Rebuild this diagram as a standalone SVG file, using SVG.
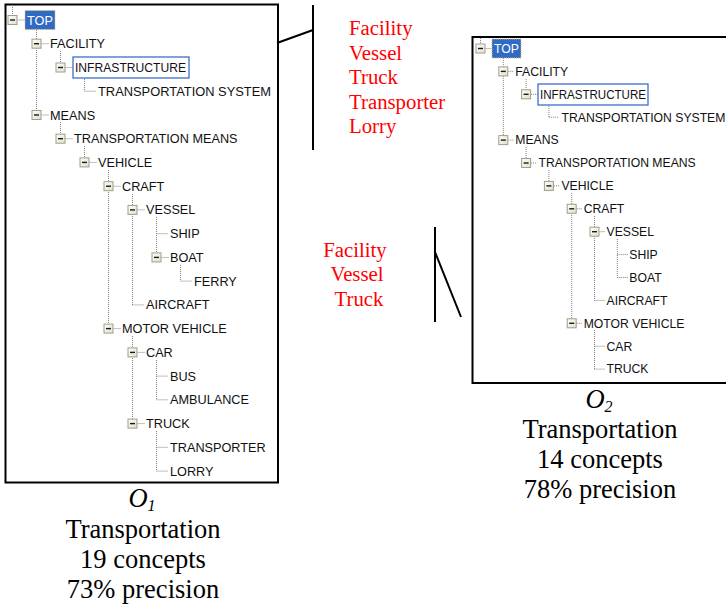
<svg xmlns="http://www.w3.org/2000/svg" xmlns:xlink="http://www.w3.org/1999/xlink" width="726" height="605" viewBox="0 0 726 605">
  <defs>
    <linearGradient id="btnFill" x1="0" y1="0" x2="1" y2="1">
      <stop offset="0" stop-color="#ffffff"/>
      <stop offset="1" stop-color="#e2ddcc"/>
    </linearGradient>
    <!-- tree expander button (expanded state) -->
    <g id="btn">
      <rect x="-4.5" y="-4.5" width="9" height="9" fill="url(#btnFill)" stroke="#a09e88" stroke-width="1"/>
      <path d="M-2.5 0 H2.5" stroke="#1a1a1a" stroke-width="1.4"/>
    </g>
    <style>
      .frame { fill: #ffffff; stroke: #000000; stroke-width: 2; }
      .dots { fill: none; stroke: #808080; stroke-width: 1; stroke-dasharray: 1 1; }
      .lbl1 { font-family: "Liberation Sans", Arial, sans-serif; font-size: 12.7px; fill: #111111; }
      .lbl2 { font-family: "Liberation Sans", Arial, sans-serif; font-size: 12.2px; fill: #111111; }
      .sel { fill: #316ac5; stroke: #d9c46a; stroke-width: 1; stroke-dasharray: 1 1; }
      .selText { fill: #ffffff; }
      .focus { fill: #ffffff; stroke: #3d6fcc; stroke-width: 1.3; }
      .red { font-family: "Liberation Serif", "Times New Roman", serif; font-size: 20.8px; fill: #ff0000; }
      .cap { font-family: "Liberation Serif", "Times New Roman", serif; font-size: 26.5px; fill: #000000; text-anchor: middle; }
      .sub { font-style: italic; font-size: 16px; }
      .pen { fill: none; stroke: #000000; stroke-width: 2; }
    </style>
  </defs>

  <rect width="726" height="605" fill="#ffffff"/>

  <!-- tree panels -->
  <rect id="panel-o1" class="frame" x="5.5" y="4.5" width="272.5" height="478"/>
  <rect id="panel-o2" class="frame" x="472.5" y="37" width="270" height="346"/>

  <!-- tree connectors (dotted) -->
  <g id="connectors">
    <path class="dots" d="M12.5 5 V15.5 M36.5 30 V115 M60.5 51 V67.5 M60.5 122 V138.7 M84.5 75 V91.2 M84.5 146 V162.4 M108.5 170 V328.6 M132.5 194 V304.9 M132.5 336 V423.6 M156.5 217 V257.4 M156.5 360 V399.8 M156.5 431 V471.1 M180.5 265 V281.1"/>
    <path class="dots" d="M17.5 20 H25 M41.5 43.7 H48.5 M65.5 67.5 H73 M84.5 91.2 H96.5 M41.5 115 H48.5 M65.5 138.7 H72.5 M89.5 162.4 H96.5 M113.5 186.2 H120.5 M137.5 209.9 H144.5 M156.5 233.7 H168.5 M161.5 257.4 H168.5 M180.5 281.1 H192.5 M132.5 304.9 H144.5 M113.5 328.6 H120.5 M137.5 352.4 H144.5 M156.5 376.1 H168.5 M156.5 399.8 H168.5 M137.5 423.6 H144.5 M156.5 447.3 H168.5 M156.5 471.1 H168.5"/>
    <path class="dots" d="M480.5 38 V44 M503.3 58 V140.1 M526.1 79 V94.3 M526.1 147 V163 M548.9 102 V117.2 M548.9 170 V185.9 M571.7 193 V323.3 M594.5 216 V300.4 M594.5 330 V369.1 M617.3 239 V277.5"/>
    <path class="dots" d="M485.5 48.5 H492 M508.3 71.4 H514 M531.1 94.3 H538 M548.9 117.2 H559 M508.3 140.1 H514 M531.1 163 H537 M553.9 185.9 H560 M576.7 208.8 H582 M599.5 231.7 H605 M617.3 254.6 H628 M617.3 277.5 H628 M594.5 300.4 H605 M576.7 323.3 H582 M594.5 346.2 H605 M594.5 369.1 H605"/>
    <!-- annotation pointers -->
    <path class="pen" d="M313 5 V150 M277 43 L313 30"/>
    <path class="pen" d="M435 227 V322 M435 252 L461 317"/>
  </g>

  <!-- O1 tree -->
  <g id="o1-top"><use xlink:href="#btn" x="12.5" y="20"/><rect class="sel" x="25" y="10.5" width="30" height="19"/><text class="lbl1 selText" x="27" y="24.5">TOP</text></g>
  <g id="o1-facility"><use xlink:href="#btn" x="36.5" y="43.7"/><text class="lbl1" x="50" y="48.2">FACILITY</text></g>
  <g id="o1-infrastructure"><use xlink:href="#btn" x="60.5" y="67.5"/><rect class="focus" x="73" y="57" width="116" height="21"/><text class="lbl1" x="75" y="72" textLength="111" lengthAdjust="spacingAndGlyphs">INFRASTRUCTURE</text></g>
  <g id="o1-transportation-system"><text class="lbl1" x="98" y="95.7" textLength="173" lengthAdjust="spacingAndGlyphs">TRANSPORTATION SYSTEM</text></g>
  <g id="o1-means"><use xlink:href="#btn" x="36.5" y="115"/><text class="lbl1" x="50" y="119.5">MEANS</text></g>
  <g id="o1-transportation-means"><use xlink:href="#btn" x="60.5" y="138.7"/><text class="lbl1" x="74" y="143.2">TRANSPORTATION MEANS</text></g>
  <g id="o1-vehicle"><use xlink:href="#btn" x="84.5" y="162.4"/><text class="lbl1" x="98" y="166.9">VEHICLE</text></g>
  <g id="o1-craft"><use xlink:href="#btn" x="108.5" y="186.2"/><text class="lbl1" x="122" y="190.7">CRAFT</text></g>
  <g id="o1-vessel"><use xlink:href="#btn" x="132.5" y="209.9"/><text class="lbl1" x="146" y="214.4">VESSEL</text></g>
  <g id="o1-ship"><text class="lbl1" x="170" y="238.2">SHIP</text></g>
  <g id="o1-boat"><use xlink:href="#btn" x="156.5" y="257.4"/><text class="lbl1" x="170" y="261.9">BOAT</text></g>
  <g id="o1-ferry"><text class="lbl1" x="194" y="285.6">FERRY</text></g>
  <g id="o1-aircraft"><text class="lbl1" x="146" y="309.4">AIRCRAFT</text></g>
  <g id="o1-motor-vehicle"><use xlink:href="#btn" x="108.5" y="328.6"/><text class="lbl1" x="122" y="333.1">MOTOR VEHICLE</text></g>
  <g id="o1-car"><use xlink:href="#btn" x="132.5" y="352.4"/><text class="lbl1" x="146" y="356.9">CAR</text></g>
  <g id="o1-bus"><text class="lbl1" x="170" y="380.6">BUS</text></g>
  <g id="o1-ambulance"><text class="lbl1" x="170" y="404.3">AMBULANCE</text></g>
  <g id="o1-truck"><use xlink:href="#btn" x="132.5" y="423.6"/><text class="lbl1" x="146" y="428.1">TRUCK</text></g>
  <g id="o1-transporter"><text class="lbl1" x="170" y="451.8">TRANSPORTER</text></g>
  <g id="o1-lorry"><text class="lbl1" x="170" y="475.6">LORRY</text></g>

  <!-- O2 tree -->
  <g id="o2-top"><use xlink:href="#btn" x="480.5" y="48.5"/><rect class="sel" x="492" y="39" width="29" height="19"/><text class="lbl2 selText" x="494" y="52.8">TOP</text></g>
  <g id="o2-facility"><use xlink:href="#btn" x="503.3" y="71.4"/><text class="lbl2" x="515.3" y="75.7">FACILITY</text></g>
  <g id="o2-infrastructure"><use xlink:href="#btn" x="526.1" y="94.3"/><rect class="focus" x="538" y="84" width="110" height="21"/><text class="lbl2" x="540" y="98.6" textLength="106" lengthAdjust="spacingAndGlyphs">INFRASTRUCTURE</text></g>
  <g id="o2-transportation-system"><text class="lbl2" x="561.5" y="121.5">TRANSPORTATION SYSTEM</text></g>
  <g id="o2-means"><use xlink:href="#btn" x="503.3" y="140.1"/><text class="lbl2" x="515.3" y="144.4">MEANS</text></g>
  <g id="o2-transportation-means"><use xlink:href="#btn" x="526.1" y="163"/><text class="lbl2" x="538.6" y="167.3">TRANSPORTATION MEANS</text></g>
  <g id="o2-vehicle"><use xlink:href="#btn" x="548.9" y="185.9"/><text class="lbl2" x="561.4" y="190.2">VEHICLE</text></g>
  <g id="o2-craft"><use xlink:href="#btn" x="571.7" y="208.8"/><text class="lbl2" x="583.7" y="213.1">CRAFT</text></g>
  <g id="o2-vessel"><use xlink:href="#btn" x="594.5" y="231.7"/><text class="lbl2" x="606.5" y="236">VESSEL</text></g>
  <g id="o2-ship"><text class="lbl2" x="629.3" y="258.9">SHIP</text></g>
  <g id="o2-boat"><text class="lbl2" x="629.3" y="281.8">BOAT</text></g>
  <g id="o2-aircraft"><text class="lbl2" x="606.5" y="304.7">AIRCRAFT</text></g>
  <g id="o2-motor-vehicle"><use xlink:href="#btn" x="571.7" y="323.3"/><text class="lbl2" x="583.7" y="327.6">MOTOR VEHICLE</text></g>
  <g id="o2-car"><text class="lbl2" x="606.5" y="350.5">CAR</text></g>
  <g id="o2-truck"><text class="lbl2" x="606.5" y="373.4">TRUCK</text></g>

  <!-- differing concepts -->
  <g id="note-o1">
    <text class="red" x="349" y="35">Facility</text>
    <text class="red" x="349" y="59.5">Vessel</text>
    <text class="red" x="349" y="84">Truck</text>
    <text class="red" x="349" y="108.5">Transporter</text>
    <text class="red" x="349" y="133">Lorry</text>
  </g>
  <g id="note-o2" text-anchor="middle">
    <text class="red" x="355" y="256.5">Facility</text>
    <text class="red" x="357" y="281">Vessel</text>
    <text class="red" x="359" y="305.5">Truck</text>
  </g>

  <!-- captions -->
  <g id="caption-o1">
    <text class="cap" x="142" y="507"><tspan font-style="italic">O</tspan><tspan class="sub" dy="4">1</tspan></text>
    <text class="cap" x="143" y="538">Transportation</text>
    <text class="cap" x="143" y="568">19 concepts</text>
    <text class="cap" x="143" y="598">73% precision</text>
  </g>
  <g id="caption-o2">
    <text class="cap" x="599" y="408"><tspan font-style="italic">O</tspan><tspan class="sub" dy="4">2</tspan></text>
    <text class="cap" x="600" y="438">Transportation</text>
    <text class="cap" x="600" y="468">14 concepts</text>
    <text class="cap" x="600" y="498">78% precision</text>
  </g>
</svg>
